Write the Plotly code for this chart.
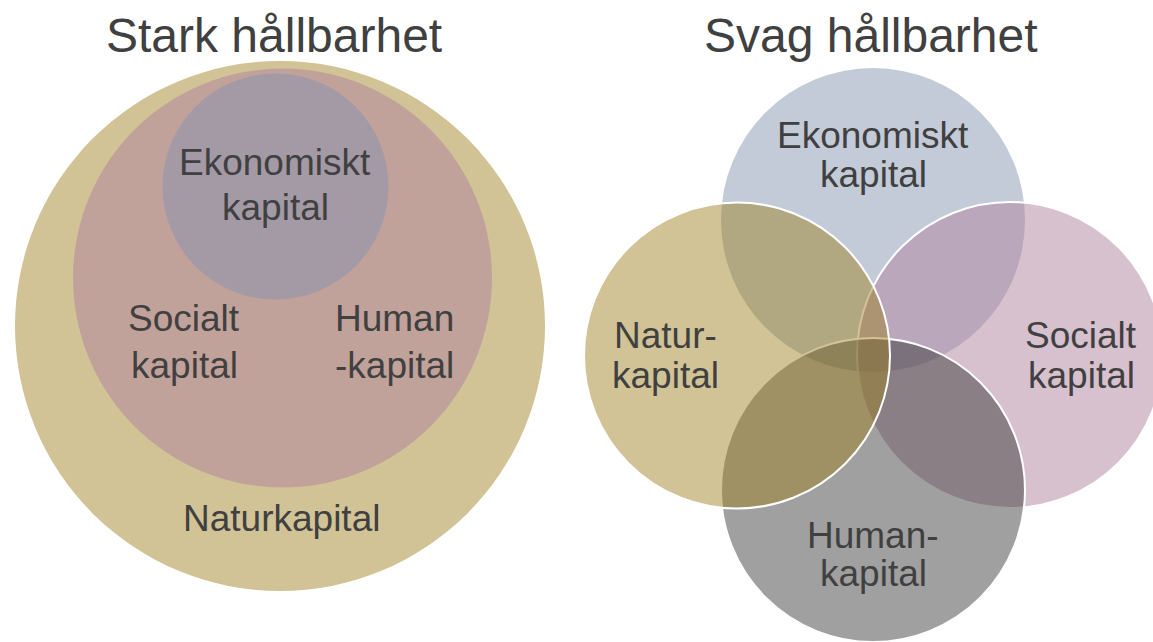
import plotly.graph_objects as go

# ---- data ----
# Left diagram: "Stark hållbarhet" (nested circles)
strong_names = ["Naturkapital", "Socialt och humankapital", "Ekonomiskt kapital"]
strong_cx = [280, 282.5, 275.5]
strong_cy = [326, 278, 186.5]
strong_r = [265, 209.5, 113]
strong_colors = ["#d1c396", "#c1a29a", "#a39aa5"]

# Right diagram: "Svag hållbarhet" (overlapping circles), drawn bottom -> top
weak_names = ["Ekonomiskt kapital", "Socialt kapital", "Humankapital", "Naturkapital"]
weak_cx = [873, 1010, 873, 737]
weak_cy = [220, 355, 490, 355.5]
weak_r = [152, 153, 152, 153]
weak_colors = ["rgb(195,202,216)", "rgba(177,131,159,0.5)", "rgba(53,53,53,0.47)", "rgba(157,127,32,0.47)"]
weak_outline = [0, 2, 2, 2]

titles = ["Stark hållbarhet", "Svag hållbarhet"]
title_x = [273.5, 871]
title_y = [35, 35]

# label lines
label_text = ["Ekonomiskt", "kapital", "Socialt", "kapital", "Human", "-kapital", "Naturkapital",
              "Ekonomiskt", "kapital", "Natur-", "kapital", "Socialt", "kapital", "Human-", "kapital"]
label_x = [275, 275, 184, 184, 394, 394, 281,
           873, 873, 665, 665, 1081, 1081, 873, 873]
label_y = [162, 207, 318, 365, 318, 365, 518,
           135, 174, 335, 375, 335, 375, 535, 573]

W, H = 1153, 642
FONT = "Liberation Sans, Arial, sans-serif"
TEXT_COLOR = "#404040"

fig = go.Figure()
fig.add_trace(go.Scatter(x=[0, W], y=[0, H], mode="markers", marker=dict(opacity=0),
                         hoverinfo="skip", showlegend=False))

shapes = []
for cx, cy, r, c in zip(strong_cx, strong_cy, strong_r, strong_colors):
    shapes.append(dict(type="circle", xref="x", yref="y", x0=cx - r, x1=cx + r, y0=cy - r, y1=cy + r,
                       fillcolor=c, line=dict(width=0)))
for cx, cy, r, c, lw in zip(weak_cx, weak_cy, weak_r, weak_colors, weak_outline):
    shapes.append(dict(type="circle", xref="x", yref="y", x0=cx - r, x1=cx + r, y0=cy - r, y1=cy + r,
                       fillcolor=c, line=dict(width=lw, color="white")))

annotations = []
for t, x, y in zip(titles, title_x, title_y):
    annotations.append(dict(text=t, x=x, y=y, xref="x", yref="y", showarrow=False,
                            xanchor="center", yanchor="middle",
                            font=dict(family=FONT, size=48, color=TEXT_COLOR)))
for t, x, y in zip(label_text, label_x, label_y):
    annotations.append(dict(text=t, x=x, y=y, xref="x", yref="y", showarrow=False,
                            xanchor="center", yanchor="middle",
                            font=dict(family=FONT, size=37, color=TEXT_COLOR)))

fig.update_layout(
    width=W, height=H,
    margin=dict(l=0, r=0, t=0, b=0),
    paper_bgcolor="white", plot_bgcolor="white",
    xaxis=dict(range=[0, W], visible=False, fixedrange=True),
    yaxis=dict(range=[H, 0], visible=False, fixedrange=True),
    shapes=shapes, annotations=annotations, showlegend=False,
)

fig.write_html("out.html", config={"displayModeBar": False},
               post_script="document.body.style.margin='0px';document.body.style.overflow='hidden';")
